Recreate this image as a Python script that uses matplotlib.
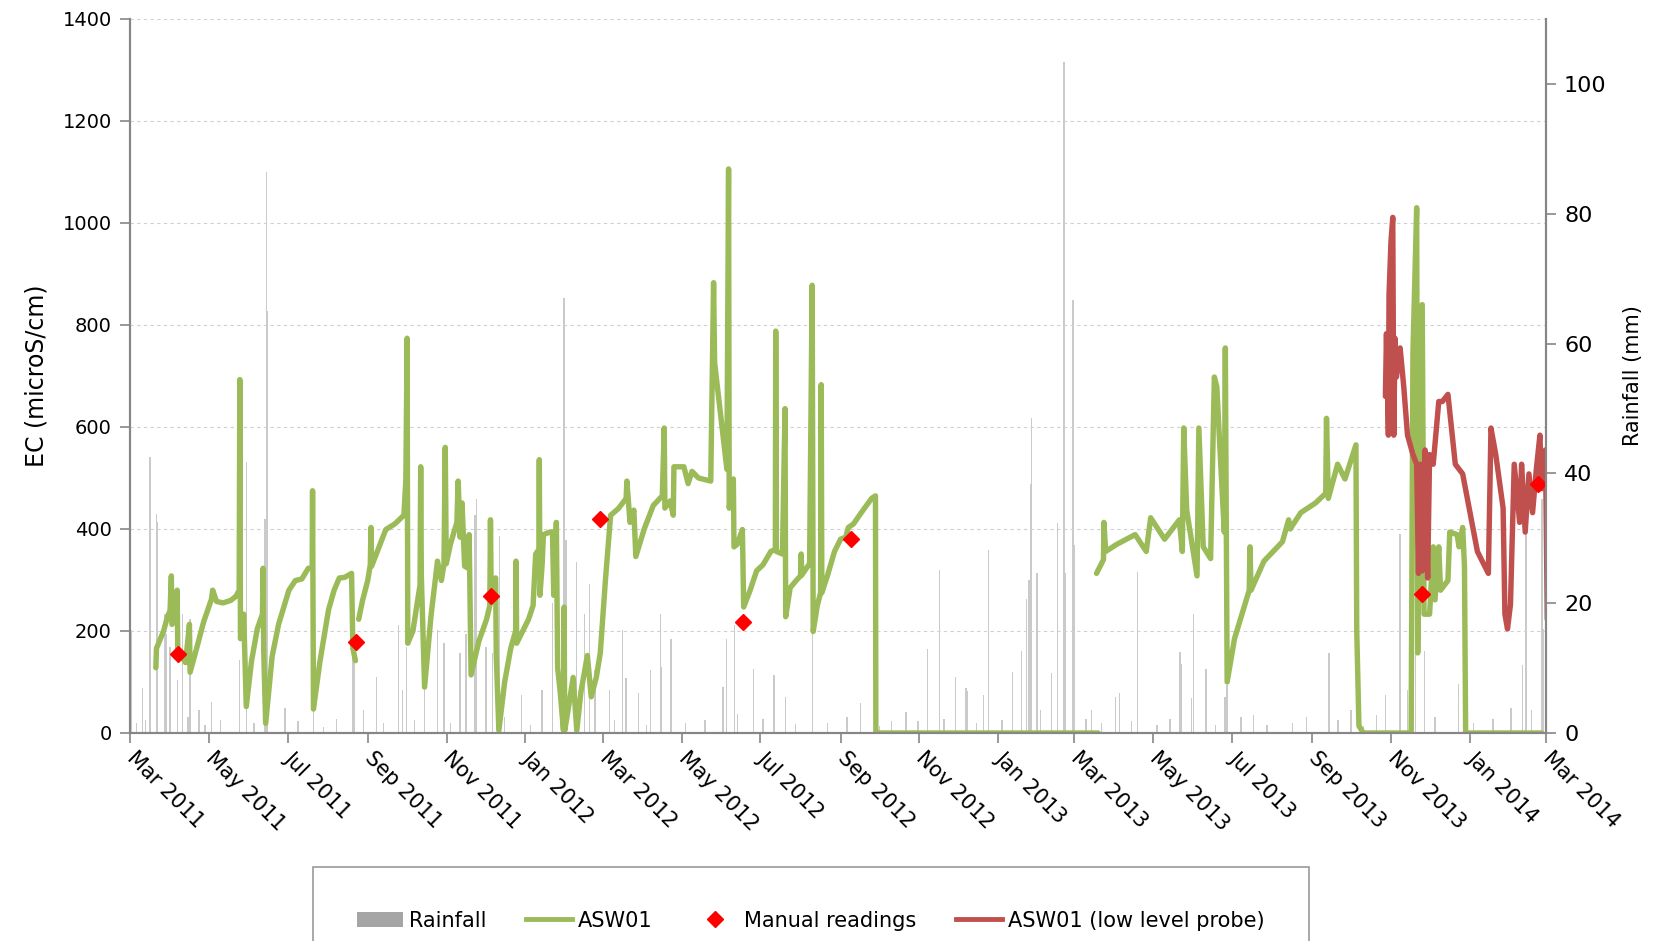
import numpy as np
import pandas as pd
import matplotlib
matplotlib.use('Agg')
import matplotlib.pyplot as plt
import matplotlib.dates as mdates
from matplotlib.lines import Line2D
from matplotlib.patches import Patch

plt.rcParams['font.family'] = ['DejaVu Sans']

start = pd.Timestamp('2011-03-01')
nan = np.nan

# ASW01 logger: days after 1 Mar 2011 and EC (microS/cm), nan = break in record
asw01_day = [20, 20.5, 26, 29, 31, 32, 32.5, 35, 36.5, 37, 40, 43, 46, 46.5, 52, 57, 63, 64, 67, 72,
             78, 82, 84.5, 85, 85.5, 88, 90, 94, 98.5, 102.5, 103, 103.5, 105, 110, 115, 120, 123, 128,
             133, 138, 141, 141.3, 142, 147, 153.7, 158, 162, 166, 171.5, 172.5, 174.5, 175.5,
             177, 180, 184, 186, 186.5, 187, 192, 198, 205, 212, 213.5, 214.5, 215, 219, 222, 224.5, 225,
             225.5, 228, 233, 238, 241, 243, 244, 244.8, 248, 253, 254, 255.5, 257, 259, 262, 262.5,
             264, 270, 276, 278.5, 279, 279.5, 282, 283, 283.5, 285.5, 290, 294.7, 298.5, 298.8, 299.3,
             304, 308.5, 312, 314, 316.5, 316.8, 317.3, 319, 320, 325, 327, 328, 330, 331, 333, 335.5,
             336, 336.5, 340, 343, 345.8, 349, 354, 357, 361, 364, 368, 372, 378, 384, 384.6, 387, 390,
             391.5, 398, 405, 412, 413.5, 414, 418, 420.5, 421, 428.7, 432, 435, 440, 449.5, 451.7,
             452.5, 462, 463.3, 463.8, 467, 467.5, 470, 474, 475, 480, 485, 490, 496, 499.5, 499.8,
             500.3, 505, 507, 507.5, 511, 516, 519, 519.5, 520, 526, 528, 528.8, 532, 534.5, 535, 535.5,
             540, 545.3, 550, 554, 556, 560, 566, 574, 577, 577.3, 749.4, 749.6,
             748.1, 753.5, 753.8, 755.2, 763.8, 778, 786.6, 790, 800.8, 812.2, 814.5, 815.6, 817.9,
             825.9, 827.3, 830.7, 836.4, 839.3, 841.2, 845, 847, 847.8, 849.2, 854.9, 866.3, 866.9,
             867.7, 877.7, 892, 896.8, 898, 906.2, 917.6, 925.5, 926.1, 927.5, 934.7, 940.4, 948.9,
             949.5, 951.2, 954.6, 991.6, 993, 995.9, 996.7, 1000.2, 1001.6, 1005.9, 1008.7, 1010.1,
             1013, 1014.4, 1020.1, 1021.5, 1027.2, 1028.7, 1031.5, 1032.9, 1033.8, 1092.7]
asw01_ec = [128, 166, 200, 228, 240, 308, 213, 225, 280, 152, 150, 138, 213, 119, 170, 218, 262, 280, 258, 255,
            260, 268, 280, 693, 185, 233, 52, 140, 204, 233, 323, 160, 19, 150, 213, 255, 280, 299,
            302, 323, 323, 475, 47, 140, 242, 280, 304, 305, 313, 166, 142, nan,
            223, 260, 299, 330, 403, 327, 360, 399, 410, 427, 496, 774, 176, 200, 250, 290, 522,
            308, 90, 230, 337, 299, 330, 560, 332, 370, 413, 494, 384, 451, 327, 323, 389,
            114, 180, 223, 250, 418, 290, 300, 304, 150, 5, 100, 166, 200, 337, 176,
            200, 223, 250, 351, 360, 536, 270, 330, 389, 394, 394, 270, 413, 128, 80, 5,
            247, 5, 60, 109, 5, 80, 152, 71, 110, 157, 300, 427, 440, 460, 494, 413, 437,
            346, 400, 446, 465, 598, 441, 455, 427, 522, 522, 489, 513, 500, 494, 883,
            726, 517, 1106, 441, 498, 365, 370, 399, 247, 280, 318, 330, 356, 360, 788,
            356, 351, 636, 228, 285, 300, 308, 351, 310, 332, 878, 199, 250, 275, 683, 275,
            310, 356, 380, 384, 403, 410, 432, 460, 465, 0, 0, nan,
            313, 340, 413, 356, 370, 389, 356, 422, 380, 418, 356, 598, 437,
            308, 598, 365, 342, 698, 679, 489, 394, 755, 100, 185, 280, 365,
            280, 337, 375, 418, 400, 432, 451, 470, 617, 460, 527, 498, 565,
            204, 14, 0, 0, 745, 1030, 157, 840, 233, 233, 365, 261,
            365, 280, 299, 394, 389, 365, 403, 327, 0, 0]

# ASW01 low level probe
low_day = [971.7, 972.5, 974, 974.5, 976, 977.4, 978.2, 979.1, 980.2, 983.1, 985.9, 988.8, 993, 995.9,
           997.3, 998.7, 1000.2, 1002.4, 1004.4, 1005.9, 1008.7, 1013, 1015.8, 1020.1, 1025.8, 1031.5,
           1037.2, 1042.9, 1048.6, 1051.4, 1053.4, 1057.1, 1062.8, 1064.2, 1066.2, 1068.5, 1071.4,
           1075.6, 1077.1, 1079.9, 1082.8, 1085.6, 1088.5, 1091.3, 1092.7, 1095.6, 1097]
low_ec = [660, 783, 584, 859, 963, 1011, 584, 774, 698, 755, 679, 584, 546, 527,
          313, 527, 318, 555, 304, 546, 527, 650, 650, 664, 527, 508,
          432, 356, 327, 313, 598, 546, 441, 233, 204, 252, 527,
          413, 527, 394, 508, 432, 517, 584, 479, 555, 223]

# manual readings
manual_day = [36.8, 175, 279.7, 364, 474.4, 557.8, 1000.3, 1090]
manual_ec = [155, 178, 269, 420, 218, 381, 273, 489]

# daily rainfall (mm)
rain_day = [1.3, 5, 9.5, 12, 15.5, 20.5, 21.5, 27, 28.5, 31, 37, 40.5, 45, 46.5, 53.5, 58, 63, 70, 84.5,
            90.3, 96, 104.5, 105.5, 106.5, 120, 130, 142, 150, 160, 172.5, 174, 181, 191, 196, 207.7,
            211, 214, 220, 228, 238, 243, 248, 255.4, 260, 267, 268.3, 275.5, 280.7, 285.8, 290, 303,
            310, 319, 327, 336, 336.5, 337.5, 345, 345.7, 352, 355.5, 360, 371, 375, 381, 384, 393.4,
            400, 403, 410.5, 411.5, 418.7, 430, 445, 459, 461.8, 467.7, 470, 482.4, 490, 498.5, 507.5,
            515, 528.4, 540, 555, 565.5, 580, 589.5, 600.6, 610, 617, 626.4, 630, 639, 647, 648, 655,
            660.5, 664.3, 675, 683, 690, 694, 695.8, 697, 698, 702, 705, 713, 717.7, 723, 724, 730,
            731, 740, 744, 752, 763, 765.8, 775, 780, 795, 805, 812.7, 813.5, 821.7, 823, 832.8, 840,
            847.5, 849, 860, 869.4, 880, 900, 910.7, 928, 935, 945, 955, 965, 972, 983, 988.6, 990.7,
            993, 995, 1002, 1010, 1028, 1040, 1055, 1069, 1078, 1080.5, 1085, 1093, 1094]
rain_mm = [15.9, 1.5, 6.9, 2, 42.5, 33.7, 32.5, 18.4, 15.3, 13.3, 8.2, 18.4, 2.5, 17.6, 3.5, 1.2, 4.8, 2, 11.2,
           41.7, 1.5, 33, 86.5, 65, 3.8, 1.8, 11.2, 1.0, 2.2, 14.3, 11.8, 3.5, 8.6, 1.5, 16.6,
           6.6, 13.3, 2.0, 6.6, 15.9, 13.8, 1.6, 12.3, 15.3, 33.6, 36.1, 13.3, 12.3, 30.3, 2.4, 5.8,
           1.3, 6.6, 20, 67, 64, 29.7, 3, 26.4, 18.4, 23, 9.7, 6.6, 2, 15.9, 8.4, 6.1,
           1.2, 9.7, 18.4, 10.2, 14.5, 1.5, 2.0, 7.1, 14.5, 16.6, 3, 9.9, 2.2, 8.9, 5.6,
           1.4, 15.3, 1.6, 2.5, 4.6, 1.1, 1.9, 3.3, 1.8, 13, 25.1, 2.2, 8.7, 6.9, 6.4, 1.5,
           5.9, 28.2, 2.0, 9.4, 12.6, 20.7, 23.6, 38.3, 48.6, 24.7, 3.5, 9.2, 32.3, 103.4, 24.6, 66.7,
           29, 2.2, 3.5, 1.6, 5.6, 6.1, 1.9, 24.8, 1.2, 2.2, 12.5, 10.7, 5.4, 18.4, 9.9, 1.3,
           5.6, 7.4, 2.5, 2.8, 1.2, 1.5, 2.5, 12.3, 2.0, 3.5, 1.1, 2.8, 5.8, 30.7, 6.6, 17.9,
           16, 14, 12.6, 2.5, 7.6, 1.5, 2.2, 3.8, 10.5, 33, 3.5, 36, 16]


def to_dates(days):
    return start + pd.to_timedelta(np.asarray(days, dtype=float), unit='D')


green = '#9BBB59'
red_line = '#C0504D'
axis_grey = '#868686'

fig = plt.figure(figsize=(16.57, 9.41), dpi=100)
ax = fig.add_axes([130 / 1657, 1 - 733 / 941, (1546 - 130) / 1657, (733 - 19) / 941])
ax2 = ax.twinx()

ax2.bar(to_dates(rain_day), rain_mm, width=1.0, color='#CACACA', linewidth=0)
ax2.set_ylim(0, 110)
ax2.set_yticks(range(0, 101, 20))

ax.set_zorder(ax2.get_zorder() + 1)
ax.patch.set_visible(False)

ax.plot(to_dates(asw01_day), asw01_ec, color=green, lw=3.9,
        solid_joinstyle='round', solid_capstyle='round')
ax.plot(to_dates(low_day), low_ec, color=red_line, lw=3.9,
        solid_joinstyle='round', solid_capstyle='round')
ax.plot(to_dates(manual_day), manual_ec, 'D', color='red', ms=8, mec='red', ls='none')

ax.set_ylim(0, 1400)
ax.set_yticks(range(0, 1401, 200))
ax.set_xlim(pd.Timestamp('2011-03-01'), pd.Timestamp('2014-03-01'))
ax.xaxis.set_major_locator(mdates.MonthLocator(bymonth=[1, 3, 5, 7, 9, 11]))
ax.xaxis.set_major_formatter(mdates.DateFormatter('%b %Y'))
ax.grid(axis='y', color='#D0D0D0', ls=(0, (3, 3)), lw=0.8)
ax.grid(axis='x', visible=False)

for a in (ax, ax2):
    a.spines['top'].set_visible(False)
    for s in ('left', 'right', 'bottom'):
        a.spines[s].set_color(axis_grey)
        a.spines[s].set_linewidth(1.5)
    a.tick_params(color=axis_grey, width=1.2, length=7, direction='out')

ax.tick_params(axis='y', labelsize=14, pad=6)
ax2.tick_params(axis='y', labelsize=16, pad=6)
ax.tick_params(axis='x', labelsize=15, pad=9)
for lab in ax.get_xticklabels():
    lab.set_rotation(-45)
    lab.set_ha('left')
    lab.set_va('center')
    lab.set_rotation_mode('anchor')

ax.set_ylabel('EC (microS/cm)', fontsize=17, labelpad=10)
ax2.set_ylabel('Rainfall (mm)', fontsize=15, labelpad=12)

handles = [Patch(facecolor='#A5A5A5', edgecolor='none'),
           Line2D([], [], color=green, lw=3.5),
           Line2D([], [], marker='D', color='red', ls='none', ms=8),
           Line2D([], [], color=red_line, lw=3.5)]
labels = ['Rainfall', 'ASW01', 'Manual readings', 'ASW01 (low level probe)']
leg = fig.legend(handles, labels, loc='upper left', bbox_to_anchor=(313 / 1657, 1 - 867 / 941),
                 ncol=4, fontsize=15, frameon=True, fancybox=False, edgecolor='#808080',
                 handlelength=2.2, handletextpad=0.3, columnspacing=1.9, borderpad=2.1,
                 borderaxespad=0)
leg.get_frame().set_linewidth(1.2)

fig.savefig('out.png', dpi=100)
